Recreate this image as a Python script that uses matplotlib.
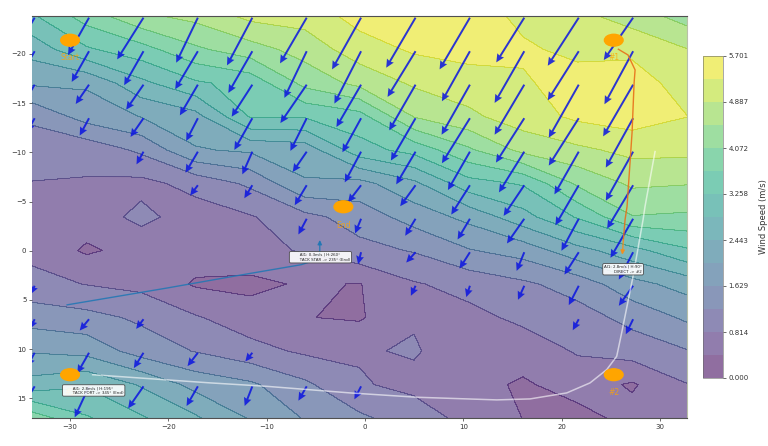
import numpy as np
import matplotlib
matplotlib.use("Agg")
import matplotlib.pyplot as plt
from matplotlib.patches import Ellipse

n = np.nan
grid_x = [-33.87,-28.32,-22.77,-17.22,-11.67,-6.12,-0.57,4.98,10.53,16.08,21.63,27.18,32.75]
grid_y = [-23.86,-20.46,-17.05,-13.65,-10.24,-6.84,-3.43,-0.03,3.38,6.79,10.19,13.6,17.0]
speed = [
 [3.2,3.85,4.4,4.6,5.0,5.05,5.45,5.55,5.5,5.2,5.0,4.7,4.3],
 [2.6,3.2,3.5,4.0,4.3,4.65,5.1,5.35,5.45,5.35,5.2,5.2,4.9],
 [2.1,2.1,2.75,3.2,3.4,4.2,4.6,4.95,5.1,5.25,5.45,5.5,5.1],
 [1.3,1.8,2.05,2.3,3.3,3.3,3.5,4.5,4.8,5.1,5.38,5.5,5.3],
 [1.0,.95,1.3,2.0,2.1,2.2,3.1,3.4,4.0,4.6,4.8,5.0,5.0],
 [.8,.78,.7,.95,1.3,2.0,1.9,2.35,3.1,3.3,4.15,4.55,4.5],
 [.7,.6,.92,.62,.78,1.1,1.4,1.8,2.15,2.7,3.3,4.05,4.0],
 [.7,.35,.55,.6,.7,.85,1.1,1.25,1.6,1.8,2.3,2.7,3.2],
 [.95,.8,.7,.36,.3,.46,.39,.78,.95,1.15,1.4,1.9,2.2],
 [1.45,1.35,1.15,.85,.6,.42,.36,.78,.7,.9,1.05,1.35,1.7],
 [2.0,1.9,1.45,1.2,.95,.75,.78,.85,.6,.6,.85,1.0,1.2],
 [2.6,2.8,2.4,1.9,1.7,1.3,.85,.72,.55,.35,.6,.36,.8],
 [3.9,3.3,2.9,2.5,2.0,1.6,1.3,1.0,.7,.4,.25,.55,.7],
]
quiver_x = [-33.6,-28.07,-22.53,-17.0,-11.46,-5.93,-0.4,5.14,10.67,16.2,21.74,27.27]
quiver_y = [-23.69,-20.28,-16.88,-13.47,-10.07,-6.66,-3.25,0.15,3.56,6.96,10.37,13.78]
wind_u = [
 [-50,-63,-79,-65,-76,-80,-87,-88,-91,-84,-93,-88],
 [-40,-52,-58,-68,-72,-67,-80,-84,-84,-89,-93,-86],
 [-30,-40,-52,-54,-62,-79,-74,-79,-85,-89,-90,-90],
 [-22,-28,-39,-35,-54,-49,-56,-74,-84,-85,-90,-82],
 [n,n,-21,-37,-30,-42,-49,-58,-66,-76,-73,-82],
 [n,n,n,-23,-24,-36,-39,-46,-56,-62,-70,-78],
 [n,n,n,n,n,-25,-18,-31,-37,-52,-52,-68],
 [n,n,n,n,n,n,-9,-28,-31,-23,-43,-43],
 [-12,n,n,n,n,n,n,-14,-11,-19,-30,-43],
 [-14,-28,-22,n,n,n,n,n,n,n,-18,-22],
 [-22,-35,-29,-31,-21,n,n,n,n,n,n,n],
 [-30,-43,-46,-34,-23,-25,-20,n,n,n,n,n],
]
wind_v = [
 [85,112,125,135,143,137,155,150,155,134,144,127],
 [70,92,102,114,125,140,157,137,150,155,147,159],
 [50,58,75,92,96,115,127,137,150,150,159,155],
 [40,52,56,68,95,98,102,127,135,133,142,148],
 [n,n,38,63,68,61,92,98,115,122,128,147],
 [n,n,n,31,39,60,51,63,88,92,120,130],
 [n,n,n,n,n,47,44,51,62,74,96,117],
 [n,n,n,n,n,n,36,31,49,56,67,82],
 [25,n,n,n,n,n,n,30,34,42,58,60],
 [28,34,29,n,n,n,n,n,n,n,33,45],
 [40,61,46,40,26,n,n,n,n,n,n,n],
 [50,93,66,59,59,43,39,n,n,n,n,n],
]
blue_x = [-30.3,-20.2,-13.4,-6.5,-5.5,-4.6,-4.6]
blue_y = [5.5,3.8,2.6,1.42,1.1,0.2,-1.1]
orange_x = [25.77,26.75,27.47,27.37,27.16,26.65,26.45,26.28,26.17]
orange_y = [-20.48,-19.9,-18.38,-17.06,-11.98,-4.47,-3.15,-1.12,0.41]
white_x = [-27.7,-15.77,-10.0,-1.53,5.26,13.4,16.79,20.52,22.89,24.59,25.6,26.11,27.26,28.28,28.48,29.5]
white_y = [12.6,13.43,13.78,14.45,14.89,15.16,15.06,14.45,13.43,12.08,10.73,8.32,2.61,-3.15,-4.5,-10.08]
wp_x = [-30,-2.2,25.3,25.3,-30]
wp_y = [-21.4,-4.47,-21.4,12.6,12.6]
wp_names = ["Start","End","#1","#2","#3"]
wp_label_y = [-19.6,-2.55,-19.6,14.4,14.4]
box_texts = ["       AI1: 0.3m/s | H:260°\n       TACK STAR -> 235° (End)",
             "AI1: 2.8m/s | H:90°\n        DIRECT -> #2",
             "       AI1: 2.8m/s | H:195°\n       TACK PORT -> 345° (End)"]
box_x = [-4.53,26.25,-27.6]
box_y = [0.66,1.88,14.2]
cb_ticks = [0.000,0.814,1.629,2.443,3.258,4.072,4.887,5.701]
x_ticks = [-30,-20,-10,0,10,20,30]
y_ticks = [-20,-15,-10,-5,0,5,10,15]

fig = plt.figure(figsize=(7.68,4.46),dpi=100)
W,H = 768.,446.
ax = fig.add_axes([32/W,1-418/H,655/W,402/H])
cax = fig.add_axes([703/W,1-378/H,20/W,322/H])

levels = np.linspace(0,5.701,15)
Z = np.array(speed)
cf = ax.contourf(grid_x,grid_y,Z,levels=levels,cmap='viridis',alpha=0.6)
ax.contour(grid_x,grid_y,Z,levels=levels,colors='k',linewidths=0.3,alpha=0.13)
ax.quiver(quiver_x,quiver_y,np.ma.masked_invalid(wind_u),np.ma.masked_invalid(wind_v),
          angles='xy',scale_units='xy',scale=29.5,color='#0a14e0',alpha=0.85,
          width=0.003,headwidth=4.0,headlength=4.2,headaxislength=3.8,zorder=3)

ax.plot(blue_x[:-1],blue_y[:-1],color='#1f77b4',lw=1.0,alpha=0.85,zorder=4)
ax.annotate('',xy=(blue_x[-1],blue_y[-1]),xytext=(blue_x[-2],blue_y[-2]),
            arrowprops=dict(arrowstyle='-|>',color='#1f77b4',lw=1.0,alpha=0.85,mutation_scale=6,shrinkA=0,shrinkB=0),zorder=4)
ax.plot(orange_x[:-1],orange_y[:-1],color='#e8701a',lw=1.0,alpha=0.9,zorder=4)
ax.annotate('',xy=(orange_x[-1],orange_y[-1]),xytext=(orange_x[-2],orange_y[-2]),
            arrowprops=dict(arrowstyle='-|>',color='#f09020',lw=1.0,alpha=0.9,mutation_scale=6,shrinkA=0,shrinkB=0),zorder=4)
ax.plot(white_x,white_y,color='white',lw=1.1,alpha=0.6,zorder=4)

for x,y,name,ly in zip(wp_x,wp_y,wp_names,wp_label_y):
    ax.add_patch(Ellipse((x,y),1.9,1.2,color='orange',zorder=5))
    ax.text(x,ly,name,color='orange',fontsize=5.5,ha='center',va='center',alpha=0.8,zorder=5)

for t,x,y in zip(box_texts,box_x,box_y):
    ax.text(x,y,t,fontsize=2.9,ha='center',va='center',multialignment='left',color='#222222',zorder=6,
            bbox=dict(boxstyle='round,pad=0.35',fc='white',ec='#404040',lw=0.6,alpha=0.9))

ax.set_xlim(-33.87,32.75)
ax.set_ylim(17.0,-23.86)
ax.set_xticks(x_ticks)
ax.set_yticks(y_ticks)
ax.tick_params(labelsize=5,length=2,width=0.5,colors='#333333',pad=2)
ax.spines['left'].set_visible(False)
ax.spines['right'].set_color('#b8c0a8')
for s in ['top','bottom']:
    ax.spines[s].set_color('#505050')
    ax.spines[s].set_linewidth(0.8)

cb = fig.colorbar(cf,cax=cax,ticks=cb_ticks)
cb.ax.set_yticklabels(['%.3f'%v for v in cb_ticks])
cb.ax.tick_params(labelsize=5,length=2,width=0.5,colors='#333333',pad=2)
cb.set_label('Wind Speed (m/s)',fontsize=6,color='#333333',labelpad=7)
cb.outline.set_linewidth(0.4)
cb.outline.set_edgecolor('#666666')

fig.savefig('out.png',dpi=100)
